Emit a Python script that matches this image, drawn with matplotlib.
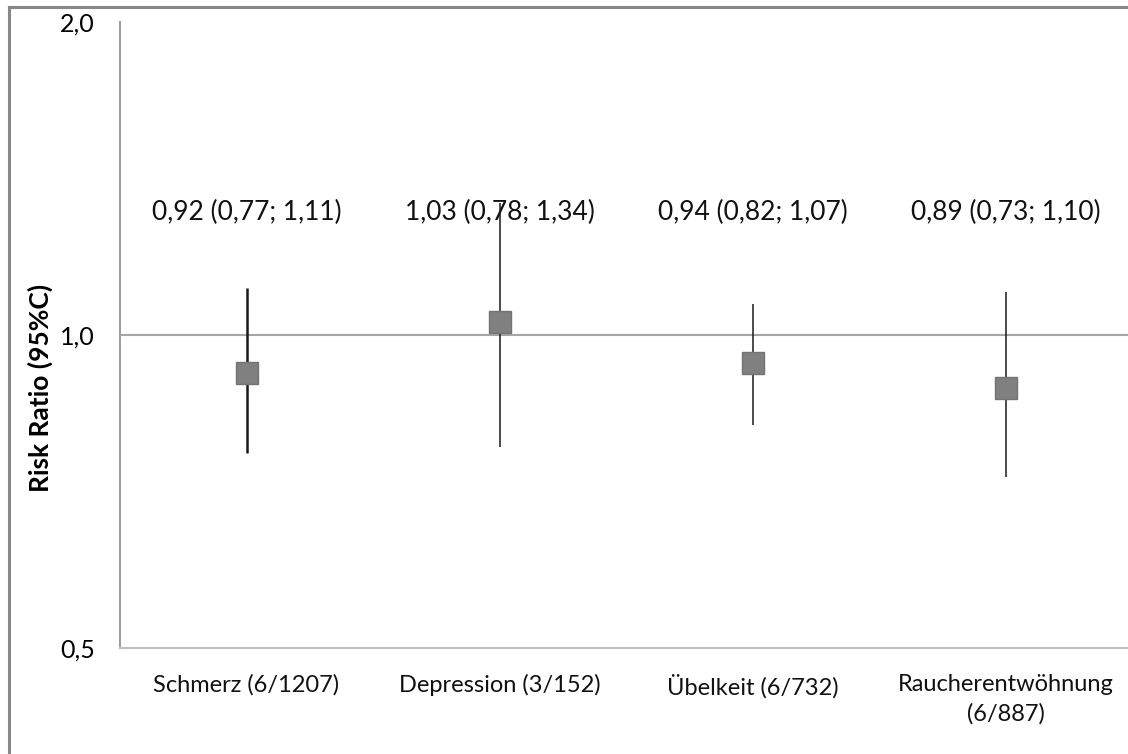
import matplotlib
matplotlib.use("Agg")
import matplotlib.pyplot as plt
from matplotlib.lines import Line2D
from matplotlib.ticker import FixedLocator, NullLocator

plt.rcParams['font.family'] = ['Lato', 'DejaVu Sans']

# outcomes (studies / patients) with pooled risk ratio and 95% CI
categories = ["Schmerz (6/1207)", "Depression (3/152)", "Übelkeit (6/732)",
              "Raucherentwöhnung\n(6/887)"]
rr = [0.92, 1.03, 0.94, 0.89]
ci_low = [0.77, 0.78, 0.82, 0.73]
ci_high = [1.11, 1.34, 1.07, 1.10]
yticks = [0.5, 1.0, 2.0]
ytick_labels = ["0,5", "1,0", "2,0"]


def de(v):
    return f"{v:.2f}".replace(".", ",")


fig = plt.figure(figsize=(11.28, 7.54), dpi=100)
W, H = 1128, 754
ax = fig.add_axes([120 / W, 106 / H, 1012 / W, 626 / H])

ax.set_yscale("log")
ax.set_ylim(0.5, 2.0)
ax.set_xlim(-0.5, len(categories) - 0.5)

ax.axhline(1.0, color="#a6a6a6", lw=1.5, zorder=1)

widths = [1.8, 1.1, 1.1, 1.1]
for i, (m, lo, hi) in enumerate(zip(rr, ci_low, ci_high)):
    ax.vlines(i, lo, hi, color="#1a1a1a", lw=widths[i], zorder=3)
    ax.text(i, 0.696, f"{de(m)} ({de(lo)}; {de(hi)})", transform=ax.get_xaxis_transform(),
            ha="center", va="center", fontsize=19, color="#111111", zorder=2)

ax.plot(range(len(rr)), rr, ls="none", marker="s", markersize=16,
        markerfacecolor="#808080", markeredgecolor="#737373", markeredgewidth=1, zorder=4)

ax.yaxis.set_major_locator(FixedLocator(yticks))
ax.yaxis.set_minor_locator(NullLocator())
ax.set_yticklabels(ytick_labels, fontsize=18)
ax.set_xticks(range(len(categories)))
ax.set_xticklabels(categories, fontsize=17, color="#111111", linespacing=1.45)
ax.tick_params(axis="both", length=0)
ax.tick_params(axis="y", pad=18)
ax.tick_params(axis="x", pad=19)

for s in ["top", "right"]:
    ax.spines[s].set_visible(False)
ax.spines["left"].set_color("#a0a0a0")
ax.spines["left"].set_linewidth(1.5)
ax.spines["bottom"].set_color("#bfbfbf")
ax.spines["bottom"].set_linewidth(1.5)

fig.text(40 / W, 1 - 388 / H, "Risk Ratio (95%C)", rotation=90, ha="center", va="center",
         fontsize=19, fontweight="bold")

# outer frame (left and top edges)
fig.add_artist(Line2D([9 / W, 9 / W], [0, 1 - 7 / H], color="#888888", lw=2.2))
fig.add_artist(Line2D([9 / W, 1], [1 - 7 / H, 1 - 7 / H], color="#888888", lw=2.2))

fig.savefig("out.png", dpi=100)
